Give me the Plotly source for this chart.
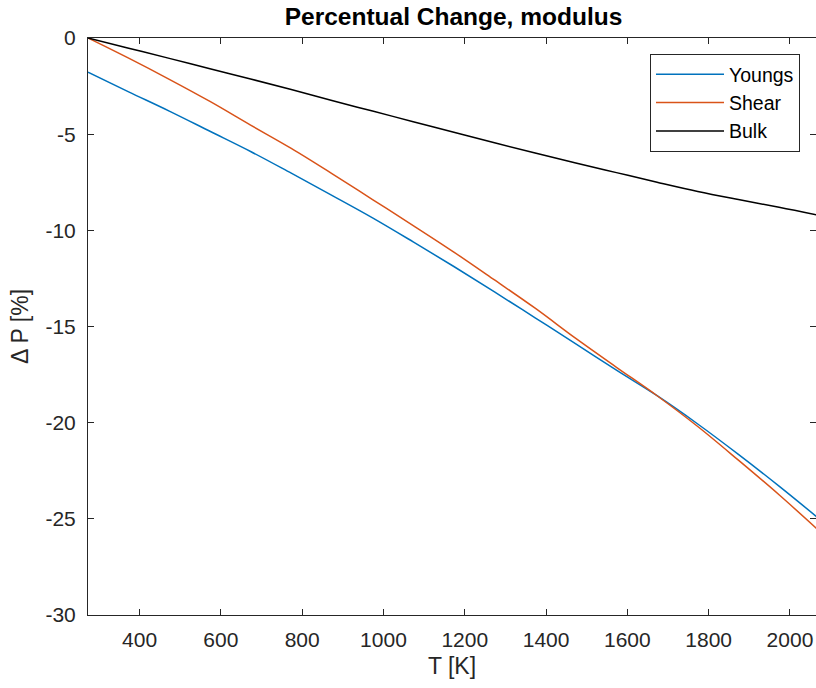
import plotly.graph_objects as go

# Temperature in K (0..1800 °C)
T = [273.15, 373.15, 473.15, 573.15, 673.15, 773.15, 873.15, 973.15, 1073.15, 1173.15,
     1273.15, 1373.15, 1473.15, 1573.15, 1673.15, 1773.15, 1873.15, 1973.15, 2073.15]

youngs = [-1.78, -2.80, -3.80, -4.85, -5.90, -7.03, -8.18, -9.35, -10.60, -11.88,
          -13.20, -14.55, -15.90, -17.27, -18.60, -20.07, -21.65, -23.30, -25.02]
shear = [0.0, -1.05, -2.15, -3.30, -4.53, -5.74, -7.05, -8.40, -9.75, -11.13,
         -12.58, -14.05, -15.62, -17.12, -18.60, -20.20, -21.95, -23.75, -25.65]
bulk = [0.0, -0.53, -1.06, -1.60, -2.13, -2.68, -3.25, -3.80, -4.35, -4.90,
        -5.45, -5.98, -6.50, -7.00, -7.50, -7.98, -8.40, -8.80, -9.23]

x_ticks = [400, 600, 800, 1000, 1200, 1400, 1600, 1800, 2000]
y_ticks = [0, -5, -10, -15, -20, -25, -30]
y_ticktext = ["0", "-5", "-10", "-15", "-20", "-25", "-30"]

FONT = "Liberation Sans, Arial, Helvetica, sans-serif"
AX = "#262626"

fig = go.Figure()
fig.add_trace(go.Scatter(x=T, y=youngs, mode="lines", name="Youngs",
                         line=dict(color="#0072BD", width=1.5, shape="spline")))
fig.add_trace(go.Scatter(x=T, y=shear, mode="lines", name="Shear",
                         line=dict(color="#D95319", width=1.5, shape="spline")))
fig.add_trace(go.Scatter(x=T, y=bulk, mode="lines", name="Bulk",
                         line=dict(color="#000000", width=1.5, shape="spline")))

fig.update_layout(
    width=816, height=688,
    margin=dict(l=88, r=0, t=38, b=73),
    paper_bgcolor="white", plot_bgcolor="white",
    font=dict(family=FONT, color=AX, size=21),
    title=dict(text="<b>Percentual Change, modulus</b>", x=(285 + 622) / 2 / 816, xanchor="center",
               y=1 - 16 / 688, yanchor="middle", font=dict(size=24.5, color="#000000", family=FONT)),
    showlegend=True,
    legend=dict(x=(800 - 88) / 728, y=1 - 16 / 577, xanchor="right", yanchor="top",
                bgcolor="white", bordercolor=AX, borderwidth=1,
                font=dict(size=19.5, color="#000000", family=FONT),
                itemwidth=68, tracegroupgap=0),
)
fig.update_xaxes(
    range=[273.15, 273.15 + 728 / 0.4065],
    tickvals=x_ticks, ticktext=[str(v) for v in x_ticks],
    ticks="inside", ticklen=6, tickwidth=1, tickcolor=AX,
    showline=True, linecolor=AX, linewidth=1, mirror="ticks",
    showgrid=False, zeroline=False, ticklabelstandoff=6,
    title=dict(text="T [K]", font=dict(size=23, color=AX), standoff=7),
)
fig.update_yaxes(
    range=[-30, 0],
    tickvals=y_ticks, ticktext=y_ticktext,
    ticks="inside", ticklen=6, tickwidth=1, tickcolor=AX,
    showline=True, linecolor=AX, linewidth=1, mirror="ticks",
    showgrid=False, zeroline=False, ticklabelstandoff=7,
    title=dict(text="Δ P [%]", font=dict(size=23, color=AX), standoff=10),
)

fig.write_html("out.html")
